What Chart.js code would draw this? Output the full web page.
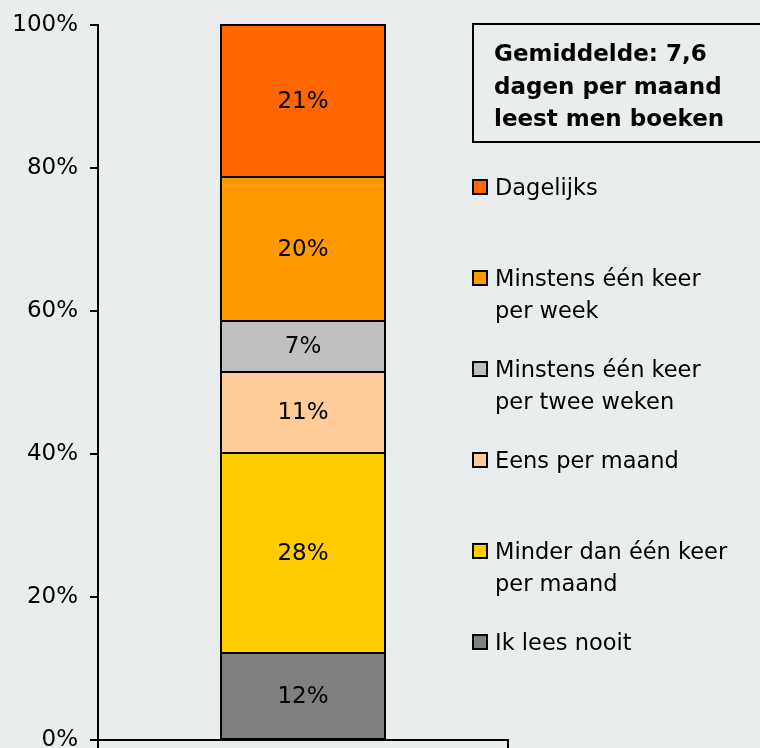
<!DOCTYPE html>
<html>
<head>
<meta charset="utf-8">
<script src="https://cdn.jsdelivr.net/npm/chart.js@4.4.1/dist/chart.umd.min.js"></script>
<style>
  html, body { margin: 0; padding: 0; background: #e9edee; overflow: hidden; }
  #wrap { position: relative; width: 760px; height: 748px; overflow: hidden; }
  #note {
    position: absolute; left: 472px; top: 23px; width: 300px; height: 120px;
    border: 2px solid #000; box-sizing: border-box;
    font: bold 23px "DejaVu Sans", sans-serif; color: #000;
    line-height: 32.5px; padding: 0 0 0 20px;
  }
  #note div:first-child { margin-top: 12px; }
  #legend { position: absolute; left: 472px; top: 0; }
  .item { position: absolute; left: 0; width: 288px; font: 22.5px "DejaVu Sans", sans-serif; color: #000; line-height: 32px; }
  .box { position: absolute; left: 0; top: 8px; width: 12px; height: 12px; border: 2px solid #000; }
  .txt { position: absolute; left: 23px; top: 0; white-space: pre; }
</style>
</head>
<body>
<div id="wrap">
  <canvas id="chart" width="760" height="748"></canvas>
  <div id="note"><div>Gemiddelde: 7,6</div><div>dagen per maand</div><div>leest men boeken</div></div>
  <div id="legend"></div>
</div>
<script>
// Leesfrequentie boeken - gestapelde staaf (aandeel in %)
const categories = [''];
const seriesNames = [
  'Ik lees nooit',
  'Minder dan één keer\nper maand',
  'Eens per maand',
  'Minstens één keer\nper twee weken',
  'Minstens één keer\nper week',
  'Dagelijks'
];
const seriesValues = [12.2, 27.9, 11.4, 7.1, 20.1, 21.3];
const seriesColors = ['#808080', '#ffcc00', '#ffcc99', '#c0c0c0', '#ff9900', '#ff6600'];
const yTicks = [0, 20, 40, 60, 80, 100];

const FONT = '"DejaVu Sans", sans-serif';

// black outline round each segment + the value in the middle
const segmentLabels = {
  id: 'segmentLabels',
  afterDatasetsDraw(chart) {
    const ctx = chart.ctx;
    ctx.save();
    ctx.strokeStyle = '#000';
    ctx.lineWidth = 2;
    chart.data.datasets.forEach((ds, i) => {
      chart.getDatasetMeta(i).data.forEach(bar => {
        const p = bar.getProps(['x', 'y', 'base', 'width'], true);
        const l = Math.round(p.x - p.width / 2), r = Math.round(p.x + p.width / 2);
        ctx.strokeRect(l, Math.round(p.y), r - l, Math.round(p.base) - Math.round(p.y));
      });
    });
    ctx.font = '23px ' + FONT;
    ctx.fillStyle = '#000';
    ctx.textAlign = 'center';
    ctx.textBaseline = 'middle';
    chart.data.datasets.forEach((ds, i) => {
      chart.getDatasetMeta(i).data.forEach((bar, j) => {
        const p = bar.getProps(['x', 'y', 'base'], true);
        ctx.fillText(Math.round(ds.data[j]) + '%', p.x, (p.y + p.base) / 2 + 1);
      });
    });
    ctx.restore();
  }
};

const chart = new Chart(document.getElementById('chart'), {
  type: 'bar',
  data: {
    labels: categories,
    datasets: seriesNames.map((name, i) => ({
      label: name,
      data: [seriesValues[i]],
      backgroundColor: seriesColors[i],
      borderWidth: 0,
      barPercentage: 0.4,
      categoryPercentage: 1
    }))
  },
  options: {
    responsive: false,
    animation: false,
    layout: { padding: { left: 0, top: 25, right: 252, bottom: 0 } },
    plugins: { legend: { display: false }, tooltip: { enabled: false } },
    scales: {
      x: {
        stacked: true,
        ticks: { display: false },
        grid: { drawOnChartArea: false, drawTicks: true, tickLength: 8, color: '#000', lineWidth: 2 },
        border: { color: '#000', width: 2 },
        afterFit: s => { s.height = 8; s.paddingLeft = 0; s.paddingRight = 0; }
      },
      y: {
        stacked: true,
        min: 0,
        max: 100,
        afterBuildTicks: s => { s.ticks = yTicks.map(v => ({ value: v })); },
        ticks: {
          callback: v => v + '%',
          color: '#000',
          font: { family: FONT, size: 23 },
          padding: 12
        },
        grid: { drawOnChartArea: false, drawTicks: true, tickLength: 8, color: '#000', lineWidth: 2 },
        border: { color: '#000', width: 2 },
        afterFit: s => { s.width = 98; s.paddingTop = 0; s.paddingBottom = 0; }
      }
    }
  },
  plugins: [segmentLabels]
});

// legend, top item is the top segment
const legend = document.getElementById('legend');
chart.data.datasets.slice().reverse().forEach((ds, i) => {
  const item = document.createElement('div');
  item.className = 'item';
  item.style.top = (171 + 91 * i) + 'px';
  item.innerHTML = '<span class="box" style="background:' + ds.backgroundColor + '"></span>';
  const t = document.createElement('span');
  t.className = 'txt';
  t.textContent = ds.label;
  item.appendChild(t);
  legend.appendChild(item);
});
</script>
</body>
</html>
